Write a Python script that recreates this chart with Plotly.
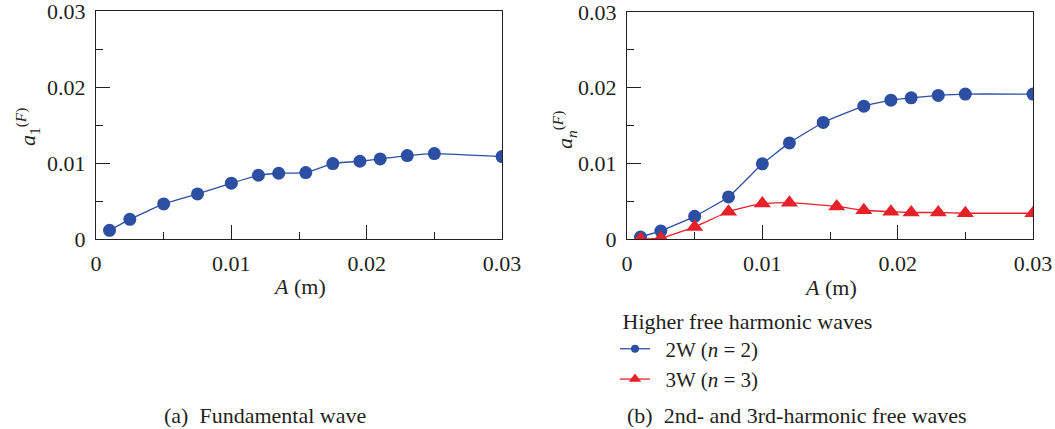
import plotly.graph_objects as go

# ---- data ----
a_x = [0.001, 0.0025, 0.005, 0.0075, 0.01, 0.012, 0.0135, 0.0155, 0.0175, 0.0195, 0.021, 0.023, 0.025, 0.03]
a_y = [0.00114, 0.00259, 0.00461, 0.00593, 0.00734, 0.00839, 0.00865, 0.00874, 0.00993, 0.01023, 0.01054, 0.01098, 0.01124, 0.01085]

w2_x = [0.001, 0.0025, 0.005, 0.0075, 0.01, 0.012, 0.0145, 0.0175, 0.0195, 0.021, 0.023, 0.025, 0.03]
w2_y = [0.00026, 0.00106, 0.0030, 0.00556, 0.00993, 0.0127, 0.0154, 0.01756, 0.01835, 0.01866, 0.01897, 0.01915, 0.01915]

w3_x = [0.001, 0.0025, 0.005, 0.0075, 0.01, 0.012, 0.0155, 0.0175, 0.0195, 0.021, 0.023, 0.025, 0.03]
w3_y = [0.0, 0.0001, 0.0016, 0.0036, 0.0047, 0.0048, 0.0043, 0.0038, 0.0036, 0.0035, 0.0035, 0.0034, 0.0034]

ticks = [0, 0.01, 0.02, 0.03]
tick_text = ["0", "0.01", "0.02", "0.03"]

BLUE = "#2c4ea3"
RED = "#e8202a"
INK = "#231f20"
FONT = "Liberation Serif"
FS = 22
W, H = 1055, 429

fig = go.Figure()

fig.add_trace(go.Scatter(x=a_x, y=a_y, mode="lines+markers", xaxis="x", yaxis="y",
                         line=dict(color=BLUE, width=1.3, shape="spline", smoothing=0.4),
                         marker=dict(color=BLUE, size=13, symbol="circle"), showlegend=False))
fig.add_trace(go.Scatter(x=w2_x, y=w2_y, mode="lines+markers", xaxis="x2", yaxis="y2",
                         line=dict(color=BLUE, width=1.3, shape="spline", smoothing=0.4),
                         marker=dict(color=BLUE, size=13, symbol="circle"), showlegend=False))
fig.add_trace(go.Scatter(x=w3_x, y=w3_y, mode="lines+markers", xaxis="x2", yaxis="y2",
                         line=dict(color=RED, width=1.3, shape="spline", smoothing=0.4),
                         marker=dict(color=RED, size=15, symbol="triangle-up"), showlegend=False))
# legend entries (smaller markers as in the reference)
fig.add_trace(go.Scatter(x=[None], y=[None], mode="lines+markers", xaxis="x2", yaxis="y2",
                         name="  2W (<i>n</i> = 2)",
                         line=dict(color=BLUE, width=1.3), marker=dict(color=BLUE, size=8, symbol="circle")))
fig.add_trace(go.Scatter(x=[None], y=[None], mode="lines+markers", xaxis="x2", yaxis="y2",
                         name="  3W (<i>n</i> = 3)",
                         line=dict(color=RED, width=1.3), marker=dict(color=RED, size=11, symbol="triangle-up")))

def px_x(p):
    return p / W

def px_y(p):
    return 1 - p / H

axis_common = dict(range=[0, 0.03], tickvals=ticks, ticktext=tick_text, showline=True, mirror=True,
                   linecolor=INK, linewidth=1.3, ticks="inside", ticklen=14, tickwidth=1.3,
                   tickcolor=INK, showgrid=False, zeroline=False, automargin=False,
                   ticklabeloverflow="allow",
                   tickfont=dict(family=FONT, size=FS, color=INK),
                   minor=dict(dtick=0.005, ticks="inside", ticklen=7, tickwidth=1.3, tickcolor=INK))

fig.update_layout(
    template="none",
    width=W, height=H,
    margin=dict(l=0, r=0, t=0, b=0, autoexpand=False),
    paper_bgcolor="white", plot_bgcolor="white",
    font=dict(family=FONT, size=FS, color=INK),
    xaxis=dict(domain=[px_x(96), px_x(502)], anchor="y", ticklabelstandoff=4, **axis_common),
    yaxis=dict(domain=[px_y(239), px_y(11)], anchor="x", ticklabelstandoff=5, **axis_common),
    xaxis2=dict(domain=[px_x(627), px_x(1033)], anchor="y2", ticklabelstandoff=4, **axis_common),
    yaxis2=dict(domain=[px_y(239), px_y(12)], anchor="x2", ticklabelstandoff=5, **axis_common),
    legend=dict(x=px_x(615), y=px_y(300), xanchor="left", yanchor="top",
                title=dict(text=" Higher free harmonic waves", font=dict(family=FONT, size=FS, color=INK)),
                font=dict(family=FONT, size=21, color=INK), bgcolor="rgba(0,0,0,0)",
                itemwidth=30, tracegroupgap=0),
    showlegend=True,
)

annotations = [
    dict(text="<i>A</i> (m)", x=px_x(299), y=px_y(286)),
    dict(text="<i>A</i> (m)", x=px_x(830), y=px_y(287)),
    dict(text="(a)  Fundamental wave", x=px_x(265), y=px_y(415)),
    dict(text="(b)  2nd- and 3rd-harmonic free waves", x=px_x(797), y=px_y(415)),
    dict(text="<i>a</i><sub>1</sub><sup>(<i>F</i>)</sup>", x=px_x(27), y=px_y(127), textangle=-90),
    dict(text="<i>a</i><sub><i>n</i></sub><sup>(<i>F</i>)</sup>", x=px_x(565), y=px_y(130), textangle=-90),
]
for a in annotations:
    a.update(xref="paper", yref="paper", showarrow=False, xanchor="center", yanchor="middle",
             font=dict(family=FONT, size=FS, color=INK))
    fig.add_annotation(**a)

fig.write_html("out.html")
